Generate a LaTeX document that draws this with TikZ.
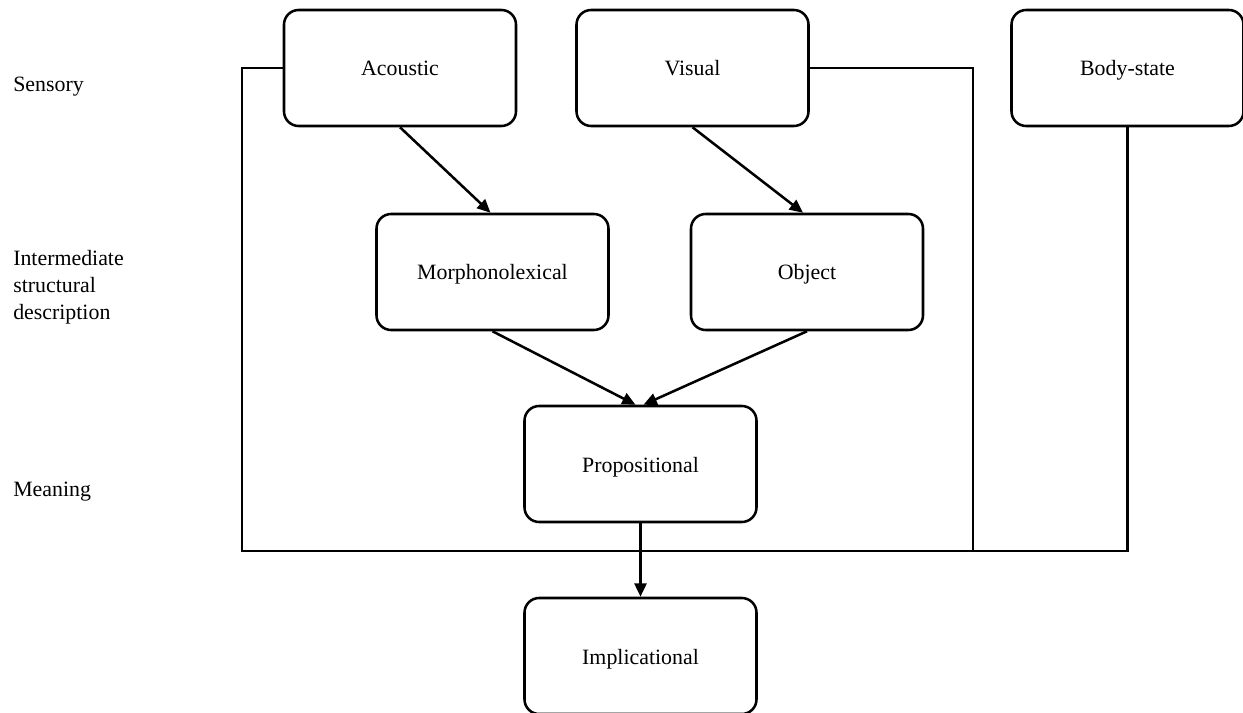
\documentclass[tikz,border=0pt]{standalone}
\usepackage{fontspec}
\setmainfont{Liberation Serif}
\usetikzlibrary{arrows.meta,calc}

\tikzset{
  stage/.style={draw, rounded corners=11pt, line width=1.9pt,
    minimum width=174pt, minimum height=87pt, inner sep=0pt,
    text height=14pt, text depth=2pt,
    font=\fontsize{16.4}{20.25}\selectfont},
  level/.style={anchor=base west, inner sep=0pt,
    font=\fontsize{16.4}{20.25}\selectfont},
  link/.style={line width=1.9pt},
  flow/.style={line width=1.9pt, -{Triangle[length=10pt,width=9pt]}}
}

\begin{document}
\begin{tikzpicture}[x=0.75pt,y=-0.75pt]
  \useasboundingbox (0,0) rectangle (1243,713);

  % level labels
  \node[level] (lsens) at (13,92) {Sensory};
  \node[level] (linter) at (13,266)
    {\begin{tabular}[t]{@{}l@{}}Intermediate\\structural\\description\end{tabular}};
  \node[level] (lmean) at (13,496) {Meaning};

  % subsystems
  \node[stage] (aco)  at (400,68)    {Acoustic};
  \node[stage] (vis)  at (692.5,68)  {Visual};
  \node[stage] (body) at (1127.5,68) {Body-state};
  \node[stage] (mor)  at (492.5,272) {Morphonolexical};
  \node[stage] (obj)  at (807,272)   {Object};
  \node[stage] (prop) at (640.5,464) {Propositional};
  \node[stage] (impl) at (640.5,656) {Implicational};

  % bus lines along the bottom
  \coordinate (corner) at (242,551);
  \coordinate (join) at (973,551);
  \draw[link] (aco.west) -| (corner) -- (join);
  \draw[link] (vis.east) -| (join);
  \draw[link] (body.south) |- (join);

  % arrows
  \draw[flow] (aco.south) -- ($(mor.north)+(-2,0)$);
  \draw[flow] (vis.south) -- ($(obj.north)+(-4,0)$);
  \draw[flow] (mor.south) -- ($(prop.north)+(-5,0)$);
  \draw[flow] (obj.south) -- ($(prop.north)+(3,0)$);
  \draw[flow] (prop.south) -- (impl.north);
\end{tikzpicture}
\end{document}
